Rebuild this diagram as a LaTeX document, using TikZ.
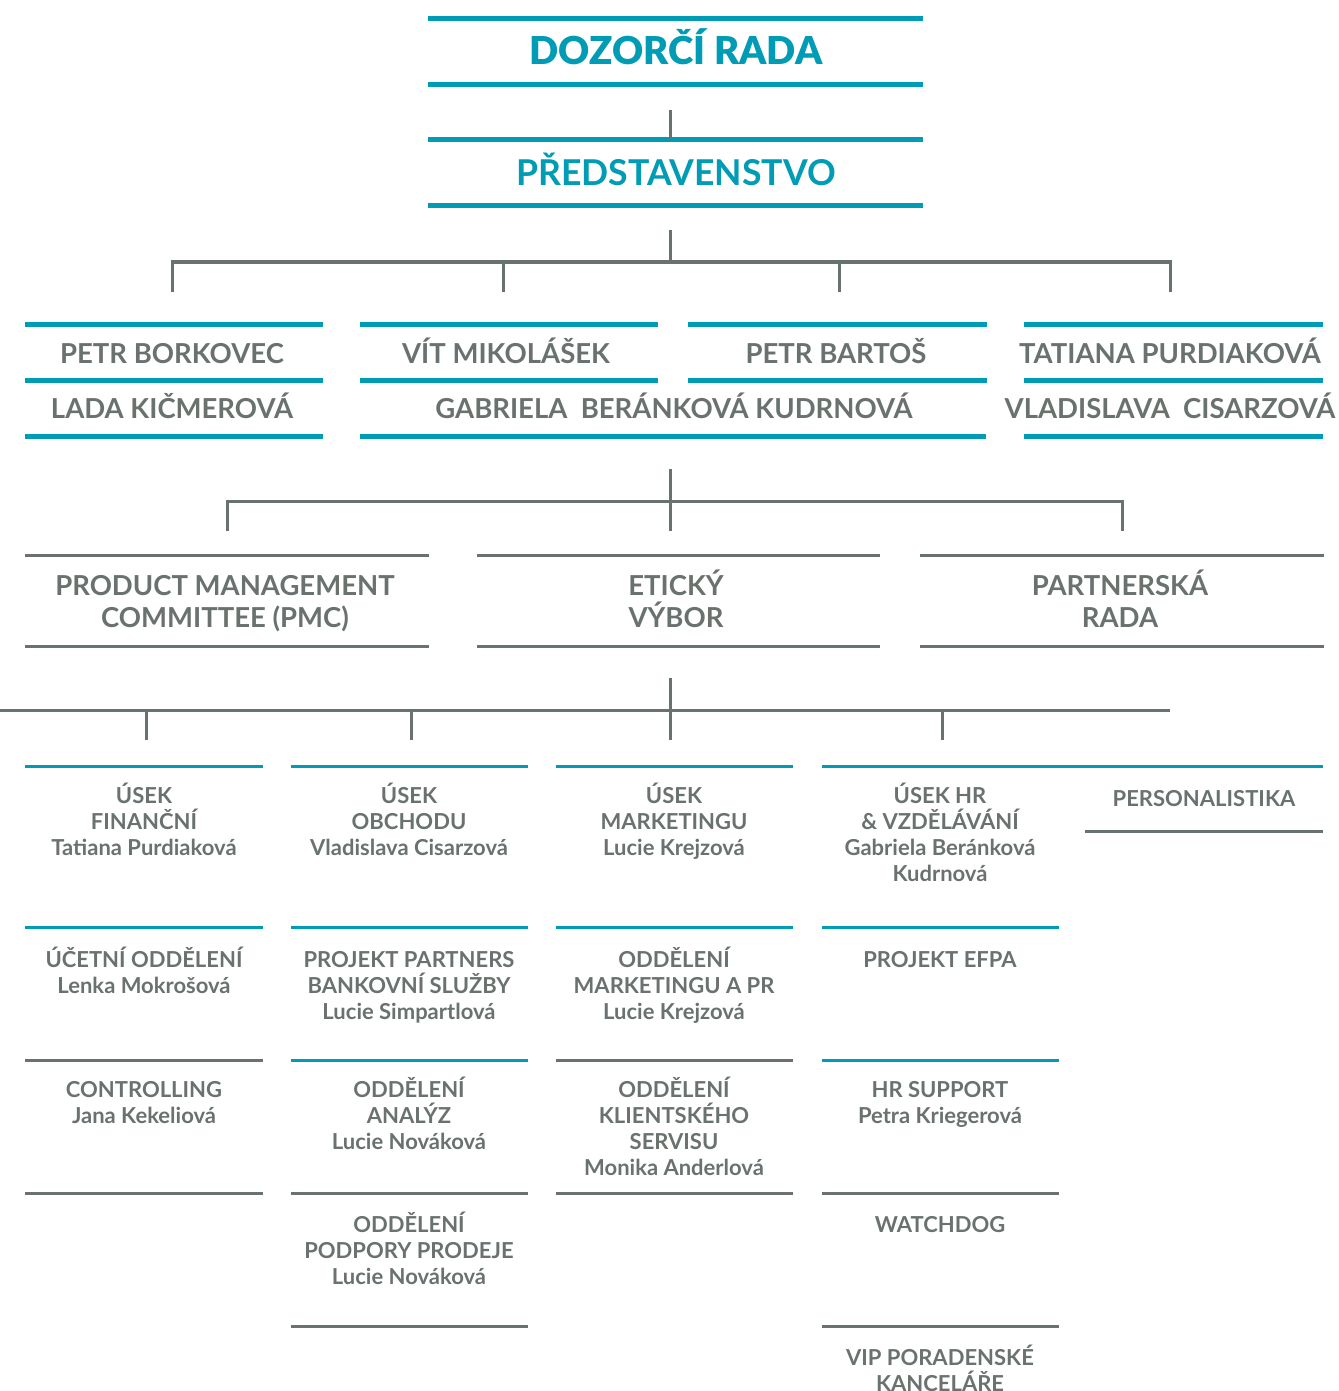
\documentclass[tikz,border=0pt]{standalone}
\usepackage{fontspec}
\setmainfont{Lato}
\newfontfamily\cerna{Lato Black}
\definecolor{tyrkys}{RGB}{0,155,180}
\definecolor{seda}{RGB}{106,114,110}
\tikzset{
    nadpis/.style={font=\fontsize{17.8}{20}\selectfont\bfseries, text=tyrkys, inner sep=0pt, anchor=base},
    jmeno/.style={font=\fontsize{13.75}{16}\selectfont\bfseries, text=seda, inner sep=0pt, anchor=base, align=center},
    utvar/.style={font=\fontsize{11}{13}\selectfont\bfseries, text=seda, inner sep=0pt, anchor=base, align=center},
    modra/.style={draw=tyrkys, line width=2.5pt},
    tenka modra/.style={draw=tyrkys, line width=1.5pt},
    seda cara/.style={draw=seda, line width=1.5pt},
    spoj/.style={draw=seda, line width=1.5pt},
}
\begin{document}
\begin{tikzpicture}[x=0.5pt, y=-0.5pt]
    \useasboundingbox (0,0) rectangle (1338,1391);

    % dozorci rada a predstavenstvo
    \draw[modra] (428,19) -- (923,19);
    \draw[modra] (428,85) -- (923,85);
    \node[nadpis, font=\fontsize{19.2}{22}\cerna] (dozor) at (676,65) {DOZORČÍ RADA};
    \draw[modra] (428,140) -- (923,140);
    \draw[modra] (428,206) -- (923,206);
    \node[nadpis] (pred) at (676,186) {PŘEDSTAVENSTVO};

    \coordinate (dozor-s) at (670,110);
    \coordinate (pred-n) at (670,140);
    \draw[spoj] (dozor-s) -- (pred-n);

    % clenove predstavenstva
    \coordinate (pred-s) at (670,230);
    \coordinate (bar1) at (670,262);
    \coordinate (borkovec-n) at (172,292);
    \coordinate (mikolasek-n) at (503,292);
    \coordinate (bartos-n) at (839,292);
    \coordinate (purdiakova-n) at (1170,292);
    \draw[spoj] (pred-s) -- (bar1);
    \draw[spoj] (borkovec-n) -- (borkovec-n |- bar1) -- (purdiakova-n |- bar1) -- (purdiakova-n);
    \foreach \c in {mikolasek-n, bartos-n}
        \draw[spoj] (\c |- bar1) -- (\c);

    \foreach \y in {324, 380, 436} {
        \draw[modra] (25,\y) -- (323,\y);
        \draw[modra] (1024,\y) -- (1323,\y);
    }
    \foreach \y in {324, 380} {
        \draw[modra] (360,\y) -- (658,\y);
        \draw[modra] (688,\y) -- (987,\y);
    }
    \draw[modra] (360,436) -- (986,436);

    \node[jmeno] (borkovec) at (172,363) {PETR BORKOVEC};
    \node[jmeno] (kicmerova) at (172,418) {LADA KIČMEROVÁ};
    \node[jmeno] (mikolasek) at (506,363) {VÍT MIKOLÁŠEK};
    \node[jmeno] (bartos) at (836,363) {PETR BARTOŠ};
    \node[jmeno] (berankova) at (674,418) {GABRIELA\ \ BERÁNKOVÁ KUDRNOVÁ};
    \node[jmeno] (purdiakova) at (1170,363) {TATIANA PURDIAKOVÁ};
    \node[jmeno] (cisarzova) at (1170,418) {VLADISLAVA\ \ CISARZOVÁ};

    % vybory (base = posledni radek)
    \coordinate (clen-s) at (670,469);
    \coordinate (bar2) at (670,501);
    \coordinate (pmc-n) at (227,531);
    \coordinate (eticky-n) at (670,531);
    \coordinate (partner-n) at (1122,531);
    \draw[spoj] (clen-s) -- (eticky-n);
    \draw[spoj] (pmc-n) -- (pmc-n |- bar2) -- (partner-n |- bar2) -- (partner-n);

    \foreach \y in {555, 646} {
        \draw[seda cara] (25,\y) -- (429,\y);
        \draw[seda cara] (477,\y) -- (880,\y);
        \draw[seda cara] (920,\y) -- (1324,\y);
    }
    \node[jmeno] (pmc) at (225,627) {PRODUCT MANAGEMENT\\COMMITTEE (PMC)};
    \node[jmeno] (eticky) at (676,627) {ETICKÝ\\VÝBOR};
    \node[jmeno] (partner) at (1120,627) {PARTNERSKÁ\\RADA};

    % useky
    \coordinate (vybor-s) at (670,678);
    \coordinate (bar3) at (670,710);
    \coordinate (financni-n) at (146,740);
    \coordinate (obchod-n) at (411,740);
    \coordinate (marketing-n) at (670,740);
    \coordinate (hr-n) at (942,740);
    \draw[spoj] (vybor-s) -- (marketing-n);
    \draw[spoj] (0,710) -- (1170,710);
    \foreach \c in {financni-n, obchod-n, hr-n}
        \draw[spoj] (\c |- bar3) -- (\c);

    % prvni radek
    \draw[tenka modra] (25,766) -- (263,766);
    \draw[tenka modra] (291,766) -- (528,766);
    \draw[tenka modra] (556,766) -- (793,766);
    \draw[tenka modra] (822,766) -- (1323,766);
    \draw[seda cara] (1085,831) -- (1323,831);
    \node[utvar] (financni) at (144,855) {ÚSEK\\FINANČNÍ\\Tatiana Purdiaková};
    \node[utvar] (obchod) at (409,855) {ÚSEK\\OBCHODU\\Vladislava Cisarzová};
    \node[utvar] (marketing) at (674,855) {ÚSEK\\MARKETINGU\\Lucie Krejzová};
    \node[utvar] (hr) at (940,881) {ÚSEK HR\\\&~VZDĚLÁVÁNÍ\\Gabriela Beránková\\Kudrnová};
    \node[utvar] (personal) at (1204,806) {PERSONALISTIKA};

    % druhy radek
    \foreach \x/\w in {25/263, 291/528, 556/793, 822/1059}
        \draw[tenka modra] (\x,927) -- (\w,927);
    \node[utvar] (ucetni) at (144,993) {ÚČETNÍ ODDĚLENÍ\\Lenka Mokrošová};
    \node[utvar] (partners) at (409,1019) {PROJEKT PARTNERS\\BANKOVNÍ SLUŽBY\\Lucie Simpartlová};
    \node[utvar] (mktpr) at (674,1019) {ODDĚLENÍ\\MARKETINGU A PR\\Lucie Krejzová};
    \node[utvar] (efpa) at (940,967) {PROJEKT EFPA};

    % treti radek
    \draw[seda cara] (25,1060) -- (263,1060);
    \draw[tenka modra] (291,1060) -- (528,1060);
    \draw[seda cara] (556,1060) -- (793,1060);
    \draw[tenka modra] (822,1060) -- (1059,1060);
    \node[utvar] (controlling) at (144,1123) {CONTROLLING\\Jana Kekeliová};
    \node[utvar] (analyzy) at (409,1149) {ODDĚLENÍ\\ANALÝZ\\Lucie Nováková};
    \node[utvar] (klient) at (674,1175) {ODDĚLENÍ\\KLIENTSKÉHO\\SERVISU\\Monika Anderlová};
    \node[utvar] (support) at (940,1123) {HR SUPPORT\\Petra Kriegerová};

    % ctvrty a paty radek
    \foreach \x/\w in {25/263, 291/528, 556/793, 822/1059}
        \draw[seda cara] (\x,1193) -- (\w,1193);
    \node[utvar] (podpora) at (409,1284) {ODDĚLENÍ\\PODPORY PRODEJE\\Lucie Nováková};
    \node[utvar] (watchdog) at (940,1232) {WATCHDOG};
    \draw[seda cara] (291,1326) -- (528,1326);
    \draw[seda cara] (822,1326) -- (1059,1326);
    \node[utvar] (vip) at (940,1391) {VIP PORADENSKÉ\\KANCELÁŘE};
\end{tikzpicture}
\end{document}
